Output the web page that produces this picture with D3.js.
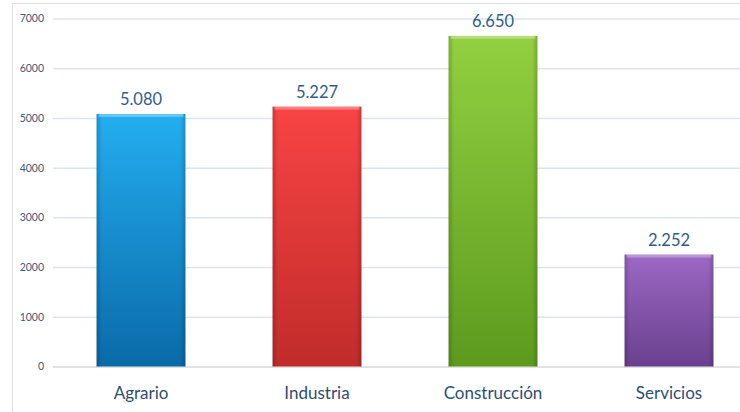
<!DOCTYPE html>
<html><head><meta charset="utf-8">
<script src="https://cdn.jsdelivr.net/npm/d3@7"></script>
<style>body{margin:0;background:#fff}svg{display:block}</style>
</head><body>
<script>
const categories = ["Agrario","Industria","Construcción","Servicios"];
const values = [5080, 5227, 6650, 2252];
const valueLabels = ["5.080","5.227","6.650","2.252"];
const tickValues = [0,1000,2000,3000,4000,5000,6000,7000];
const topColors = ["#23aef0","#f84444","#92d040","#9c68c4"];
const bottomColors = ["#0a6aa8","#c02c2a","#5c9a1e","#69408e"];

const W = 740, H = 412;
const svg = d3.select("body").append("svg").attr("width", W).attr("height", H);
const font = "Lato, 'Open Sans', sans-serif";

// frame
svg.append("rect").attr("x", 12.5).attr("y", 3.5).attr("width", 740).attr("height", 420)
  .attr("fill", "none").attr("stroke", "#e2e2e2");

const x = d3.scaleBand().domain(categories).range([53, 757]).paddingInner(0.495).paddingOuter(0.2475);
const y = d3.scaleLinear().domain([0, 7000]).range([366.5, 18.5]);

const defs = svg.append("defs");
categories.forEach((c, i) => {
  const g = defs.append("linearGradient").attr("id", "g" + i).attr("x1", 0).attr("y1", 0).attr("x2", 0).attr("y2", 1);
  g.append("stop").attr("offset", "0%").attr("stop-color", topColors[i]);
  g.append("stop").attr("offset", "100%").attr("stop-color", bottomColors[i]);
  const h = defs.append("linearGradient").attr("id", "h" + i).attr("x1", 0).attr("y1", 0).attr("x2", 1).attr("y2", 0);
  h.append("stop").attr("offset", "0%").attr("stop-color", "#000").attr("stop-opacity", 0.18);
  h.append("stop").attr("offset", "6%").attr("stop-color", "#000").attr("stop-opacity", 0);
  h.append("stop").attr("offset", "94%").attr("stop-color", "#000").attr("stop-opacity", 0);
  h.append("stop").attr("offset", "100%").attr("stop-color", "#000").attr("stop-opacity", 0.18);
});

// gridlines
const yAxis = d3.axisLeft(y).tickValues(tickValues).tickSize(-(W - 53)).tickFormat(d3.format("d"));
const ga = svg.append("g").attr("transform", "translate(53,0)").call(yAxis);
ga.select(".domain").remove();
ga.selectAll(".tick line").attr("stroke", d => d === 0 ? "#d9d9d9" : "#d8e6f2").attr("stroke-width", 1.5);
ga.selectAll(".tick text").attr("x", -9).attr("fill", "#3d5878").attr("font-size", 10.5)
  .attr("font-family", font);

// bars
const bars = svg.append("g").selectAll("g").data(categories).join("g");
bars.append("rect")
  .attr("x", d => x(d)).attr("width", x.bandwidth())
  .attr("y", (d, i) => y(values[i])).attr("height", (d, i) => y(0) - y(values[i]))
  .attr("fill", (d, i) => `url(#g${i})`);
bars.append("rect")
  .attr("x", d => x(d)).attr("width", x.bandwidth())
  .attr("y", (d, i) => y(values[i])).attr("height", (d, i) => y(0) - y(values[i]))
  .attr("fill", (d, i) => `url(#h${i})`);
bars.append("rect")
  .attr("x", d => x(d) + 2).attr("width", x.bandwidth() - 4)
  .attr("y", (d, i) => y(values[i])).attr("height", 3)
  .attr("fill", "#fff").attr("opacity", 0.3);

// value labels
svg.append("g").selectAll("text").data(categories).join("text")
  .attr("x", d => x(d) + x.bandwidth() / 2)
  .attr("y", (d, i) => y(values[i]) - 9)
  .attr("text-anchor", "middle").attr("fill", "#2f5d8c")
  .attr("font-size", 16.5).attr("font-family", font)
  .text((d, i) => valueLabels[i]);

// x axis labels
const xAxis = d3.axisBottom(x).tickSize(0);
const gx = svg.append("g").attr("transform", `translate(0,${y(0)})`).call(xAxis);
gx.select(".domain").remove();
gx.selectAll(".tick text").attr("y", 20).attr("dy", "0.71em").attr("fill", "#2e4e72")
  .attr("font-size", 17).attr("font-family", font);
</script>
</body></html>
